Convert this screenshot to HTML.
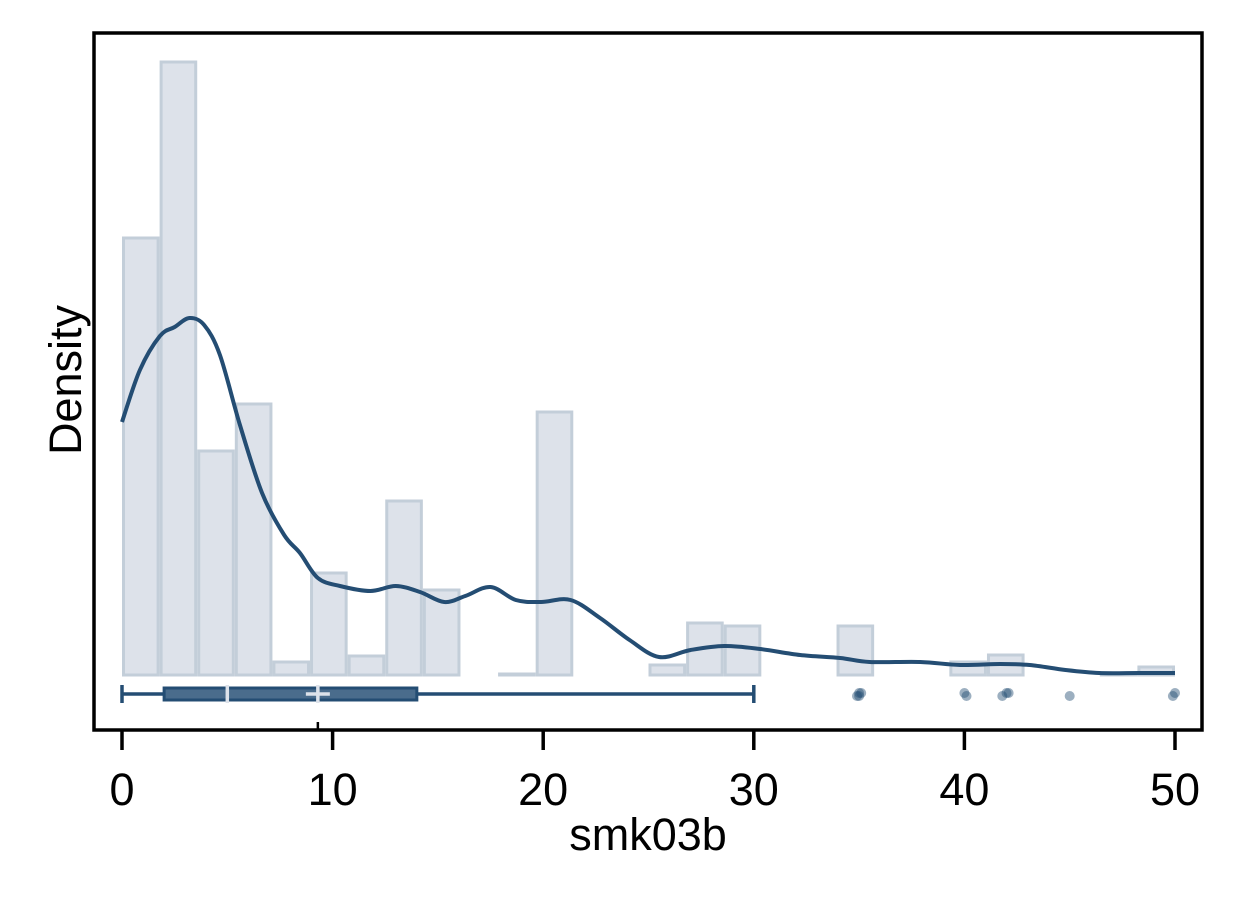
<!DOCTYPE html>
<html><head><meta charset="utf-8"><style>
body{margin:0;background:#fff;}
svg{display:block;font-family:"Liberation Sans",Arial,sans-serif;}
</style></head><body>
<svg id="chart" width="1237" height="899" viewBox="0 0 1237 899">
<rect x="0" y="0" width="1237" height="899" fill="#fff"/>
<g id="bars"></g>
<g id="kde"></g>
<g id="box"></g>
<rect x="94" y="33" width="1108" height="697" fill="none" stroke="#000" stroke-width="3.5"/>
<g id="axis"></g>
<text x="648" y="850" font-size="45" text-anchor="middle">smk03b</text>
<text transform="translate(81,380) rotate(-90)" font-size="45" text-anchor="middle">Density</text>
</svg>
<script>
const binStart = 0, binWidth = 50/28;
const binHeights = [437,613,224,271,13,102,19,174,85,0,1,263,0,0,10,52,49,0,0,49,0,0,13,20,0,0,2,8];
const kdeX = [0,0.85,1.8,2.5,3.2,3.9,4.65,5.6,6.65,7.7,8.45,9.3,10.35,11.8,13,14.15,15.3,16.3,17.5,18.7,19.9,21.3,22.7,24.1,25.5,27,28.6,30.3,32.2,34.1,35.5,37.9,39.8,41.7,43.1,44.8,46.4,48.3,50];
const kdeY = [253,305,339,348,357,350,320,250,182,140,122,97,89,84,89,83,73,79,88,75,73,75,57,35,18,25,29,26,20,17,13,13,10,11,10,5,2,2,2];
const boxStats = {min:0, q1:2, median:5, q3:14, max:30, mean:9.3};
const outliers = [35,35,35.1,34.9,40,40.1,42,41.8,42.1,45,50,49.9];
const xTicks = [0,10,20,30,40,50];
const NS="http://www.w3.org/2000/svg";
const sx = v => 122 + v*(1175-122)/50;
const base = 675, sy = d => base - d;
function mk(tag, attrs, parent){const e=document.createElementNS(NS,tag);for(const k in attrs)e.setAttribute(k,attrs[k]);parent.appendChild(e);return e;}
const bars=document.getElementById('bars');
binHeights.forEach((h,i)=>{
  if(h<=0) return;
  const x0=sx(binStart+i*binWidth), x1=sx(binStart+(i+1)*binWidth);
  const r=mk('rect',{x:x0+1.5,y:sy(h),width:x1-x0-3,height:h,fill:'#dde2ea',stroke:'#c3ced9','stroke-width':3},bars);
  
  
});
const kde=document.getElementById('kde');
const pts=kdeX.map((x,i)=>[sx(x),sy(kdeY[i])]);
let d='M'+pts[0][0]+' '+pts[0][1];
for(let i=0;i<pts.length-1;i++){
  const p0=pts[Math.max(0,i-1)],p1=pts[i],p2=pts[i+1],p3=pts[Math.min(pts.length-1,i+2)];
  const c1=[p1[0]+(p2[0]-p0[0])/6,p1[1]+(p2[1]-p0[1])/6];
  const c2=[p2[0]-(p3[0]-p1[0])/6,p2[1]-(p3[1]-p1[1])/6];
  d+=`C${c1[0]} ${c1[1]} ${c2[0]} ${c2[1]} ${p2[0]} ${p2[1]}`;
}
const p=mk('path',{d:d,fill:'none',stroke:'#244d73','stroke-width':4,'stroke-linejoin':'round'},kde);


const box=document.getElementById('box');
const by=694;
let e;
e=mk('line',{x1:sx(boxStats.min),x2:sx(boxStats.max),y1:by,y2:by,stroke:'#244d73','stroke-width':3.5},box);

[boxStats.min,boxStats.max].forEach(v=>{e=mk('line',{x1:sx(v),x2:sx(v),y1:by-9,y2:by+9,stroke:'#244d73','stroke-width':3.5},box);
});
e=mk('rect',{x:sx(boxStats.q1),y:by-6,width:sx(boxStats.q3)-sx(boxStats.q1),height:12,fill:'#4a6c8c',stroke:'#244d73','stroke-width':3},box);

e=mk('line',{x1:sx(boxStats.median),x2:sx(boxStats.median),y1:by-9,y2:by+9,stroke:'#dde2ea','stroke-width':3.5},box);

e=mk('path',{d:`M${sx(boxStats.mean)-12} ${by}H${sx(boxStats.mean)+12}M${sx(boxStats.mean)} ${by-9}V${by+9}`,stroke:'#dde2ea','stroke-width':3.5},box);

outliers.forEach((v,i)=>{e=mk('circle',{cx:sx(v),cy:by+(i%2?2:-1),r:5,fill:'#244d73','fill-opacity':0.45},box);
});
const ax=document.getElementById('axis');
xTicks.forEach(t=>{
  e=mk('line',{x1:sx(t),x2:sx(t),y1:730,y2:750,stroke:'#000','stroke-width':3.5},ax);
  
  e=mk('text',{x:sx(t),y:805,'font-size':45,'text-anchor':'middle'},ax);
  e.textContent=t;
  
});
e=mk('line',{x1:sx(boxStats.mean),x2:sx(boxStats.mean),y1:722,y2:730,stroke:'#000','stroke-width':2.5},ax);

</script>
</body></html>
